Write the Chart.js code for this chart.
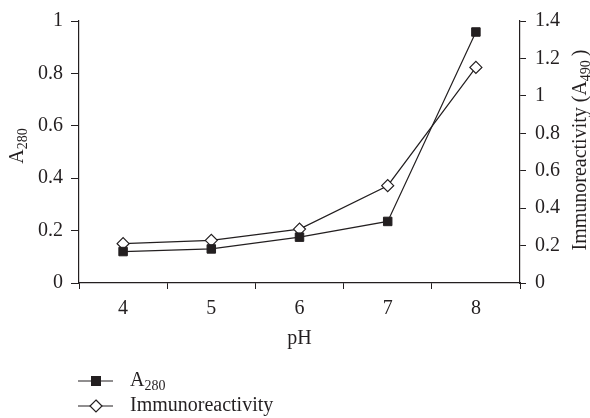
<!DOCTYPE html>
<html lang="en">
<head>
    <meta charset="UTF-8">
    <title>A280 and immunoreactivity vs pH</title>
    <script src="https://cdn.jsdelivr.net/npm/chart.js"></script>
    <style>
        body {
            margin: 0;
            padding: 0;
            background: #ffffff;
        }
        #wrap {
            width: 590px;
            height: 418px;
        }
    </style>
</head>
<body>
    <div id="wrap">
        <canvas id="phChart" width="590" height="418"></canvas>
    </div>

    <script>
        // data
        const phLabels = ["4", "5", "6", "7", "8"];
        const a280 = [0.12, 0.13, 0.175, 0.235, 0.958];
        const immuno = [0.21, 0.228, 0.288, 0.52, 1.152];
        const leftTicks = [0, 0.2, 0.4, 0.6, 0.8, 1];
        const rightTicks = [0, 0.2, 0.4, 0.6, 0.8, 1, 1.2, 1.4];

        const serif = "'Liberation Serif', 'DejaVu Serif', serif";
        const ink = "#231f20";
        const fs = 20;

        // draws a label with a lowered subscript part
        function subText(ctx, base, sub, x, y, size) {
            ctx.font = size + "px " + serif;
            ctx.fillText(base, x, y);
            const w = ctx.measureText(base).width;
            ctx.font = Math.round(size * 0.72) + "px " + serif;
            ctx.fillText(sub, x + w, y + size * 0.28);
            return w + ctx.measureText(sub).width;
        }

        function drawMarker(ctx, style, x, y) {
            ctx.save();
            ctx.lineWidth = 1.2;
            ctx.strokeStyle = ink;
            if (style === "rect") {
                ctx.fillStyle = ink;
                ctx.fillRect(x - 5, y - 5, 10, 10);
            } else {
                ctx.fillStyle = "#fff";
                ctx.beginPath();
                ctx.moveTo(x, y - 6);
                ctx.lineTo(x + 6, y);
                ctx.lineTo(x, y + 6);
                ctx.lineTo(x - 6, y);
                ctx.closePath();
                ctx.fill();
                ctx.stroke();
            }
            ctx.restore();
        }

        // axis titles + legend (rotated titles and subscripts)
        const extras = {
            id: "extras",
            afterDraw(chart) {
                const ctx = chart.ctx;
                const area = chart.chartArea;
                ctx.save();
                ctx.fillStyle = ink;
                ctx.textBaseline = "middle";

                // x title
                ctx.font = fs + "px " + serif;
                ctx.textAlign = "center";
                ctx.fillText("pH", (area.left + area.right) / 2, 339);
                ctx.textAlign = "left";

                // left title
                ctx.save();
                ctx.translate(18, 146);
                ctx.rotate(-Math.PI / 2);
                ctx.font = fs + "px " + serif;
                const wl = ctx.measureText("A").width;
                ctx.font = Math.round(fs * 0.72) + "px " + serif;
                const wl2 = ctx.measureText("280").width;
                subText(ctx, "A", "280", -(wl + wl2) / 2, 0, fs);
                ctx.restore();

                // right title
                ctx.save();
                ctx.translate(581, 150);
                ctx.rotate(-Math.PI / 2);
                ctx.font = fs + "px " + serif;
                const p1 = "Immunoreactivity (A";
                const w1 = ctx.measureText(p1).width;
                ctx.font = Math.round(fs * 0.72) + "px " + serif;
                const w2 = ctx.measureText("490").width;
                ctx.font = fs + "px " + serif;
                const w3 = ctx.measureText(")").width;
                const x0 = -(w1 + w2 + w3 + 4) / 2;
                const used = subText(ctx, p1, "490", x0, 0, fs);
                ctx.font = fs + "px " + serif;
                ctx.fillText(")", x0 + used + 4, 0);
                ctx.restore();

                // legend
                const rows = [
                    { ds: chart.data.datasets[0], y: 381, base: "A", sub: "280" },
                    { ds: chart.data.datasets[1], y: 406, base: "Immunoreactivity", sub: "" }
                ];
                rows.forEach(r => {
                    ctx.strokeStyle = ink;
                    ctx.lineWidth = 1.2;
                    ctx.beginPath();
                    ctx.moveTo(78, r.y);
                    ctx.lineTo(113, r.y);
                    ctx.stroke();
                    drawMarker(ctx, r.ds.pointStyle, 96, r.y);
                    ctx.fillStyle = ink;
                    subText(ctx, r.base, r.sub, 130, r.y, fs);
                });
                ctx.restore();
            }
        };

        const plainTick = v => String(Math.round(v * 10) / 10);

        const ctx = document.getElementById("phChart").getContext("2d");
        const phChart = new Chart(ctx, {
            type: "line",
            data: {
                labels: phLabels,
                datasets: [{
                    label: "A280",
                    data: a280,
                    yAxisID: "y",
                    borderColor: ink,
                    borderWidth: 1.2,
                    pointStyle: "rect",
                    pointRadius: 6,
                    pointBackgroundColor: ink,
                    pointBorderColor: ink,
                    pointBorderWidth: 1,
                    tension: 0
                }, {
                    label: "Immunoreactivity",
                    data: immuno,
                    yAxisID: "y2",
                    borderColor: ink,
                    borderWidth: 1.2,
                    pointStyle: "rectRot",
                    pointRadius: 6,
                    pointBackgroundColor: "#ffffff",
                    pointBorderColor: ink,
                    pointBorderWidth: 1.2,
                    tension: 0
                }]
            },
            options: {
                responsive: false,
                animation: false,
                layout: {
                    padding: { top: 17, right: 0, left: 0, bottom: 0 }
                },
                plugins: {
                    legend: { display: false },
                    tooltip: { enabled: false }
                },
                scales: {
                    x: {
                        type: "category",
                        offset: true,
                        grid: {
                            offset: true,
                            drawOnChartArea: false,
                            color: ink,
                            tickLength: 6
                        },
                        border: { color: ink, width: 1.2 },
                        ticks: {
                            color: ink,
                            padding: 8,
                            font: { family: serif, size: fs }
                        },
                        afterFit(scale) { scale.height = 135; }
                    },
                    y: {
                        position: "left",
                        min: 0,
                        max: 1,
                        afterBuildTicks(scale) {
                            scale.ticks = leftTicks.map(v => ({ value: v }));
                        },
                        grid: {
                            drawOnChartArea: false,
                            color: ink,
                            tickLength: 8
                        },
                        border: { color: ink, width: 1.2 },
                        ticks: {
                            color: ink,
                            padding: 8,
                            font: { family: serif, size: fs },
                            callback: plainTick
                        },
                        afterFit(scale) { scale.width = 79; }
                    },
                    y2: {
                        position: "right",
                        min: 0,
                        max: 1.4,
                        afterBuildTicks(scale) {
                            scale.ticks = rightTicks.map(v => ({ value: v }));
                        },
                        grid: {
                            drawOnChartArea: false,
                            color: ink,
                            tickLength: 6
                        },
                        border: { color: ink, width: 1.2 },
                        ticks: {
                            color: ink,
                            padding: 9,
                            font: { family: serif, size: fs },
                            callback: plainTick
                        },
                        afterFit(scale) { scale.width = 70; }
                    }
                }
            },
            plugins: [extras]
        });
    </script>
</body>
</html>
